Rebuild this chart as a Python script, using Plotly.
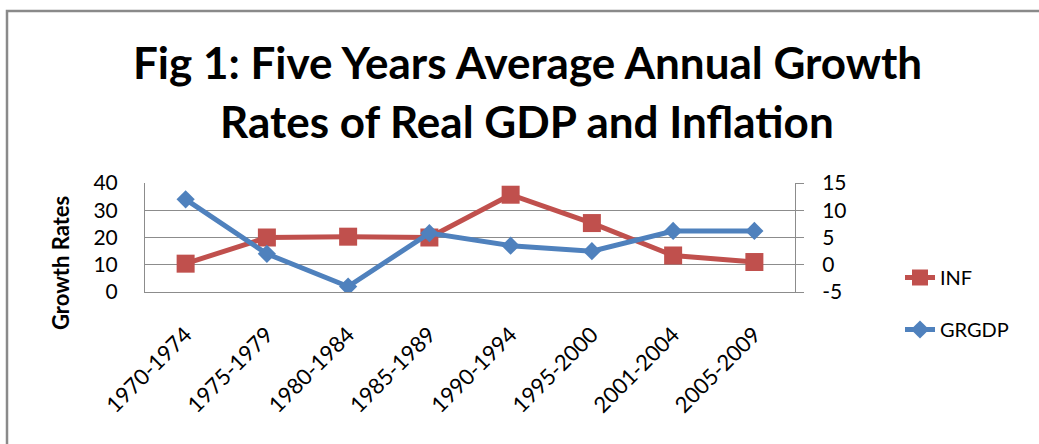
import plotly.graph_objects as go

periods = ["1970-1974", "1975-1979", "1980-1984", "1985-1989",
           "1990-1994", "1995-2000", "2001-2004", "2005-2009"]
inf_values = [10.4, 20.0, 20.3, 20.0, 35.7, 25.3, 13.4, 11.0]
grgdp_values = [12.0, 2.0, -4.0, 5.8, 3.5, 2.5, 6.2, 6.2]

left_ticks = [0, 10, 20, 30, 40]
right_ticks = [-5, 0, 5, 10, 15]
right_tick_text = ["-5", "0", "5", "10", "15"]

RED = "#C0504D"
BLUE = "#4F81BD"
GRID = "#8C8C8C"
FONT = "Lato"

W, H = 1039, 444
ML, MR, MT, MB = 145, 244, 183, 152
PW = W - ML - MR
PH = H - MT - MB


def px_x(px):
    return (px - ML) / PW


def px_y(py):
    return (H - MB - py) / PH


fig = go.Figure()
fig.add_trace(go.Scatter(
    x=periods, y=inf_values, name="INF", mode="lines+markers",
    line=dict(color=RED, width=5),
    marker=dict(symbol="square", size=18, color=RED),
    legendgroup="a", yaxis="y",
))
fig.add_trace(go.Scatter(
    x=periods, y=grgdp_values, name="GRGDP", mode="lines+markers",
    line=dict(color=BLUE, width=5),
    marker=dict(symbol="diamond", size=14, color=BLUE),
    legendgroup="b", yaxis="y2",
))

fig.update_layout(
    width=W, height=H,
    margin=dict(l=ML, r=MR, t=MT, b=MB, autoexpand=False),
    paper_bgcolor="white", plot_bgcolor="white",
    font=dict(family=FONT, color="black", size=19),
    showlegend=True,
    legend=dict(x=px_x(900), y=px_y(258), xanchor="left", yanchor="top",
                font=dict(size=20, family=FONT), tracegroupgap=23,
                traceorder="grouped", bgcolor="rgba(0,0,0,0)"),
    xaxis=dict(type="category", range=[-0.5, 7.5], showgrid=False,
               showline=True, linecolor=GRID, linewidth=1,
               tickangle=-45, tickfont=dict(size=22, family=FONT),
               ticks="", ticklabelstandoff=20),
    yaxis=dict(range=[0, 40], tickvals=left_ticks, showgrid=True,
               gridcolor=GRID, gridwidth=1, showline=True, linecolor=GRID,
               linewidth=1, zeroline=False, ticks="",
               tickfont=dict(size=21, family=FONT), ticklabelstandoff=22),
    yaxis2=dict(range=[-5, 15], tickvals=right_ticks, ticktext=right_tick_text,
                overlaying="y",
                side="right", showgrid=False, showline=True, linecolor=GRID,
                linewidth=1, zeroline=False, ticks="outside", ticklen=8,
                tickcolor=GRID, tickfont=dict(size=21, family=FONT),
                ticklabelstandoff=14),
)

fig.add_annotation(text="<b>Fig 1: Five Years Average Annual Growth</b>",
                   xref="paper", yref="paper", x=px_x(527), y=px_y(62),
                   xanchor="center", yanchor="middle", showarrow=False,
                   font=dict(size=44, family=FONT))
fig.add_annotation(text="<b>Rates of Real GDP and Inflation</b>",
                   xref="paper", yref="paper", x=px_x(527), y=px_y(121),
                   xanchor="center", yanchor="middle", showarrow=False,
                   font=dict(size=44, family=FONT))
fig.add_annotation(text="<b>Growth Rates</b>", textangle=-90,
                   xref="paper", yref="paper", x=px_x(60), y=px_y(263),
                   xanchor="center", yanchor="middle", showarrow=False,
                   font=dict(size=22, family=FONT))

fig.add_shape(type="rect", xref="paper", yref="paper",
              x0=px_x(7), x1=px_x(1060), y0=px_y(470), y1=px_y(11),
              line=dict(color="#8A8A8A", width=2.5), fillcolor="rgba(0,0,0,0)",
              layer="below")

fig.write_html("out.html")
